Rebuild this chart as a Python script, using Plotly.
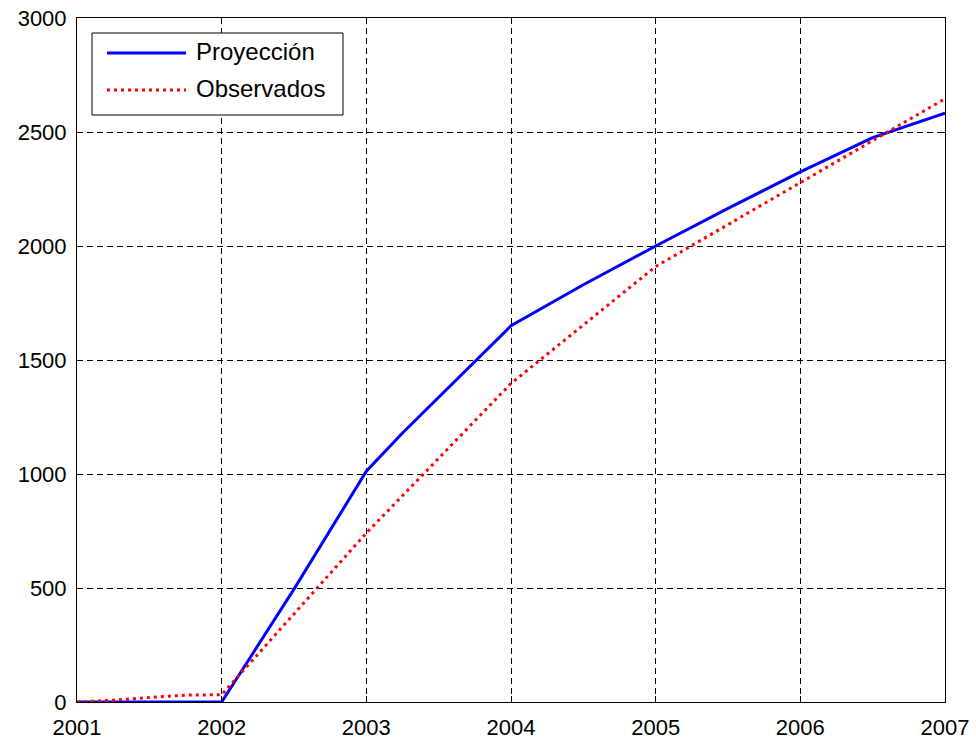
import plotly.graph_objects as go

# Data
proj_years = [2001, 2002, 2002.5, 2003, 2003.25, 2004, 2004.5, 2005, 2005.5, 2006, 2006.5, 2007]
proj_vals = [0, 0, 495, 1012, 1180, 1650, 1830, 2000, 2165, 2325, 2475, 2583]

obs_years = [2001, 2001.25, 2001.5, 2001.75, 2002, 2003, 2004, 2005, 2006, 2007]
obs_vals = [0, 8, 20, 30, 32, 741, 1397, 1910, 2278, 2646]

x_ticks = [2001, 2002, 2003, 2004, 2005, 2006, 2007]
y_ticks = [0, 500, 1000, 1500, 2000, 2500, 3000]

series_names = ["Proyección", "Observados"]

FONT = "Liberation Sans, Arial, sans-serif"

fig = go.Figure()
fig.add_trace(go.Scatter(x=proj_years, y=proj_vals, mode="lines", name=series_names[0],
                         line=dict(color="#0000FF", width=3), showlegend=False))
fig.add_trace(go.Scatter(x=obs_years, y=obs_vals, mode="lines", name=series_names[1],
                         line=dict(color="#FF0000", width=3, dash="3px,4px"), showlegend=False))

axis_common = dict(
    showline=True, linecolor="black", linewidth=1, mirror="ticks",
    ticks="inside", ticklen=6, tickcolor="black", tickwidth=1,
    showgrid=True, gridcolor="black", gridwidth=1, griddash="6px,4px",
    zeroline=False, automargin=False,
    tickfont=dict(family=FONT, size=22, color="black"),
)

fig.update_xaxes(range=[2001, 2007], tickvals=x_ticks, ticktext=[str(v) for v in x_ticks],
                 ticklabelstandoff=6, **axis_common)
fig.update_yaxes(range=[0, 3000], tickvals=y_ticks, ticktext=[str(v) for v in y_ticks],
                 ticklabelstandoff=5, **axis_common)

# Legend drawn MATLAB-style (long line samples)
L, T, W, H = 77, 18, 868, 684
def px(x):
    return (x - L) / W
def py(y):
    return (T + H - y) / H

shapes = [
    dict(type="rect", xref="paper", yref="paper", x0=px(92), x1=px(343), y0=py(115), y1=py(33),
         line=dict(color="black", width=1), fillcolor="white", layer="above"),
    dict(type="line", xref="paper", yref="paper", x0=px(107), x1=px(186), y0=py(53), y1=py(53),
         line=dict(color="#0000FF", width=3), layer="above"),
    dict(type="line", xref="paper", yref="paper", x0=px(107), x1=px(186), y0=py(90), y1=py(90),
         line=dict(color="#FF0000", width=3, dash="3px,4px"), layer="above"),
]
annotations = [
    dict(xref="paper", yref="paper", x=px(194), y=py(52), text=series_names[0], showarrow=False,
         xanchor="left", yanchor="middle", font=dict(family=FONT, size=24, color="black")),
    dict(xref="paper", yref="paper", x=px(194), y=py(89), text=series_names[1], showarrow=False,
         xanchor="left", yanchor="middle", font=dict(family=FONT, size=24, color="black")),
]

fig.update_layout(
    width=976, height=744,
    margin=dict(l=L, r=976 - L - W, t=T, b=744 - T - H, pad=0),
    paper_bgcolor="white", plot_bgcolor="white",
    template="none",
    showlegend=False,
    shapes=shapes, annotations=annotations,
    font=dict(family=FONT, color="black"),
)

fig.write_html("out.html")
